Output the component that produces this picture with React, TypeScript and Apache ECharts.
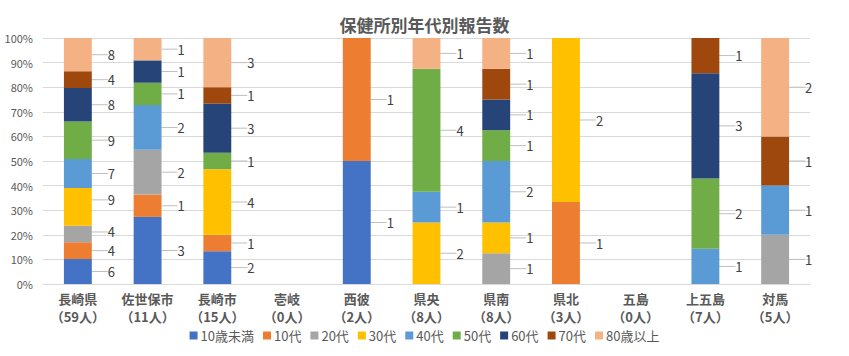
import React, { useEffect, useRef } from "react";
import * as echarts from "echarts";

const categories = ["長崎県", "佐世保市", "長崎市", "壱岐", "西彼", "県央", "県南", "県北", "五島", "上五島", "対馬"];
const totals = [59, 11, 15, 0, 2, 8, 8, 3, 0, 7, 5];
const ageGroups = ["10歳未満", "10代", "20代", "30代", "40代", "50代", "60代", "70代", "80歳以上"];
const counts: number[][] = [
  [6, 3, 2, 0, 1, 0, 0, 0, 0, 0, 0],
  [4, 1, 1, 0, 1, 0, 0, 1, 0, 0, 0],
  [4, 2, 0, 0, 0, 0, 1, 0, 0, 0, 1],
  [9, 0, 4, 0, 0, 2, 1, 2, 0, 0, 0],
  [7, 2, 0, 0, 0, 1, 2, 0, 0, 1, 1],
  [9, 1, 1, 0, 0, 4, 1, 0, 0, 2, 0],
  [8, 1, 3, 0, 0, 0, 1, 0, 0, 3, 0],
  [4, 0, 1, 0, 0, 0, 1, 0, 0, 1, 1],
  [8, 1, 3, 0, 0, 1, 1, 0, 0, 0, 2],
];
const colors = ["#4472C4", "#ED7D31", "#A5A5A5", "#FFC000", "#5B9BD5", "#70AD47", "#264478", "#9E480E", "#F4B183"];
const yTicks = [0, 10, 20, 30, 40, 50, 60, 70, 80, 90, 100];

const FONT = "'Noto Sans CJK JP', sans-serif";

export default function App() {
  const ref = useRef<HTMLDivElement>(null);
  useEffect(() => {
    if (!ref.current) return;
    const chart = echarts.init(ref.current, undefined, { renderer: "svg" });
    const series = ageGroups.map((name, gi) => ({
      name,
      type: "bar",
      stack: "total",
      barWidth: "40%",
      itemStyle: { color: colors[gi] },
      data: counts[gi].map((c, ci) => {
        const total = totals[ci];
        const pct = total > 0 ? (c / total) * 100 : 0;
        return {
          value: pct,
          count: c,
          label: { show: c > 0 },
          labelLine: { show: c > 0 },
        };
      }),
      label: {
        show: true,
        position: "right",
        distance: 4,
        color: "#404040",
        fontSize: 13,
        lineHeight: 13,
        fontFamily: FONT,
        formatter: (p: any) => (p.data.count > 0 ? String(p.data.count) : ""),
      },
      labelLayout: (p: any) => {
        let dy = 0;
        if (p.dataIndex === 0 && p.seriesIndex === 2) dy = -2;
        if (p.dataIndex === 0 && p.seriesIndex === 3) dy = -7;
        return { dx: 12, dy };
      },
      labelLine: { show: true, lineStyle: { color: "#BFBFBF", width: 1 } },
    }));
    chart.setOption({
      animation: false,
      textStyle: { fontFamily: FONT },
      title: {
        text: "保健所別年代別報告数",
        left: "center",
        top: 11,
        textStyle: { fontSize: 17, fontWeight: "bold", color: "#595959", fontFamily: FONT },
      },
      legend: {
        bottom: 9,
        left: "center",
        icon: "rect",
        itemWidth: 8,
        itemHeight: 8,
        itemGap: 9,
        textStyle: { fontSize: 13, color: "#595959", fontFamily: FONT, padding: [0, 0, 0, -2] },
        data: ageGroups,
      },
      grid: { left: 43, right: 39, top: 38, bottom: 72, containLabel: false },
      xAxis: {
        type: "category",
        data: categories.map((c, i) => `${c}\n（${totals[i]}人）`),
        axisLine: { lineStyle: { color: "#D9D9D9" } },
        axisTick: { show: false },
        axisLabel: {
          color: "#595959",
          fontSize: 13,
          fontWeight: "bold",
          fontFamily: FONT,
          lineHeight: 18,
          margin: 5,
          interval: 0,
        },
      },
      yAxis: {
        type: "value",
        min: 0,
        max: 100,
        interval: 10,
        axisLine: { show: false },
        axisTick: { show: false },
        splitLine: { lineStyle: { color: "#D9D9D9" } },
        axisLabel: {
          color: "#595959",
          fontSize: 11,
          fontFamily: FONT,
          margin: 10,
          formatter: (v: number) => (yTicks.includes(v) ? `${v}%` : ""),
        },
      },
      series,
    });
    return () => chart.dispose();
  }, []);
  return <div ref={ref} style={{ width: 849, height: 356, position: "absolute", left: 0, top: 0 }} />;
}
